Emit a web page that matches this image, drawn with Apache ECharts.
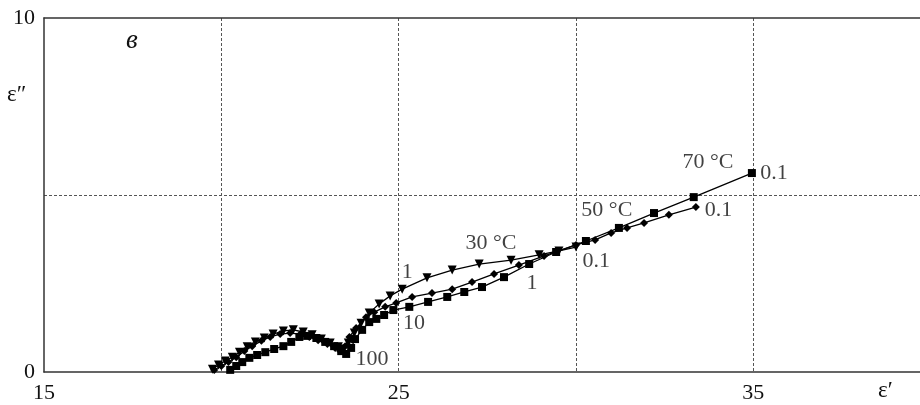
<!DOCTYPE html>
<html>
<head>
<meta charset="utf-8">
<script src="https://cdn.jsdelivr.net/npm/echarts@6/dist/echarts.min.js"></script>
<style>html,body{margin:0;padding:0;background:#fff}#c{width:920px;height:405px}</style>
</head>
<body>
<div id="c"></div>
<script>
// ε' (x) and ε'' (y) data, high frequency -> low frequency
const t30x = [19.75,19.92,20.11,20.31,20.51,20.73,20.96,21.21,21.46,21.75,22.03,22.31,22.56,22.82,23.07,23.30,23.44,23.58,23.75,23.94,24.17,24.45,24.76,25.10,25.80,26.51,27.27,28.17,28.96,29.52,30.00];
const t30y = [0.08,0.20,0.31,0.42,0.56,0.71,0.85,0.96,1.07,1.16,1.19,1.13,1.05,0.93,0.82,0.71,0.65,0.82,1.10,1.38,1.67,1.92,2.15,2.34,2.66,2.88,3.05,3.16,3.31,3.42,3.53];
const t50x = [19.80,20.00,20.20,20.42,20.65,20.87,21.13,21.38,21.66,21.94,22.23,22.48,22.73,22.99,23.21,23.35,23.49,23.61,23.80,24.08,24.31,24.62,24.93,25.38,25.94,26.51,27.07,27.69,28.39,29.10,30.00,30.54,30.99,31.44,31.92,32.62,33.38];
const t50y = [0.06,0.17,0.28,0.42,0.59,0.73,0.88,0.99,1.07,1.10,1.07,0.99,0.90,0.79,0.68,0.59,0.73,0.99,1.24,1.55,1.69,1.84,1.95,2.12,2.23,2.34,2.54,2.77,3.02,3.28,3.59,3.73,3.93,4.07,4.21,4.44,4.66];
const t70x = [20.25,20.42,20.59,20.79,21.01,21.24,21.49,21.75,21.97,22.20,22.42,22.68,22.93,23.18,23.38,23.52,23.66,23.77,23.97,24.17,24.37,24.59,24.85,25.30,25.83,26.37,26.85,27.35,27.97,28.68,29.44,30.28,31.21,32.20,33.32,34.96];
const t70y = [0.06,0.17,0.28,0.40,0.48,0.56,0.65,0.73,0.85,0.99,1.02,0.96,0.85,0.73,0.59,0.51,0.68,0.93,1.19,1.41,1.50,1.61,1.75,1.84,1.98,2.12,2.26,2.40,2.68,3.05,3.39,3.70,4.07,4.49,4.94,5.62];

// tick labels shown
const xTickLabels = [15, 25, 35];
const yTickLabels = [0, 10];

// annotation texts (data coordinates of text centres)
const annText = ['30 °C','50 °C','70 °C','0.1','0.1','0.1','1','1','10','100'];
const annX = [27.60,30.87,33.72,35.58,34.02,30.57,25.24,28.76,25.43,24.25];
const annY = [3.64,4.58,5.93,5.62,4.58,3.14,2.82,2.51,1.38,0.37];

const zip = (a, b) => a.map((v, i) => [v, b[i]]);
const serif = '"Liberation Serif", "DejaVu Serif", serif';
const lineStyle = { color: '#000', width: 1.3 };

const chart = echarts.init(document.getElementById('c'), null, { renderer: 'canvas' });
chart.setOption({
  animation: false,
  backgroundColor: '#fff',
  grid: { left: 44, right: 0, top: 18, bottom: 33, containLabel: false },
  xAxis: [{
    type: 'value', min: 15, max: 39.7, interval: 5,
    axisLine: { show: true, onZero: false, lineStyle: { color: '#333', width: 1.5 } },
    axisTick: { show: false },
    axisLabel: {
      show: true, margin: 10, color: '#111', fontFamily: serif, fontSize: 22,
      showMaxLabel: false,
      formatter: v => xTickLabels.indexOf(v) >= 0 ? String(v) : ''
    },
    splitLine: { show: true, showMinLine: false, showMaxLine: false,
      lineStyle: { color: '#555', width: 1, type: [3, 2] } }
  }, {
    type: 'value', min: 15, max: 39.7, position: 'top',
    axisLine: { show: true, onZero: false, lineStyle: { color: '#333', width: 1.5 } },
    axisTick: { show: false }, axisLabel: { show: false }, splitLine: { show: false }
  }],
  yAxis: {
    type: 'value', min: 0, max: 10, interval: 5,
    axisLine: { show: true, onZero: false, lineStyle: { color: '#333', width: 1.5 } },
    axisTick: { show: false },
    axisLabel: {
      show: true, margin: 9, color: '#111', fontFamily: serif, fontSize: 22,
      formatter: v => yTickLabels.indexOf(v) >= 0 ? String(v) : ''
    },
    splitLine: { show: true, showMinLine: false, showMaxLine: false,
      lineStyle: { color: '#555', width: 1, type: [3, 2] } }
  },
  series: [
    { name: '30 °C', type: 'line', data: zip(t30x, t30y), symbol: 'triangle', symbolRotate: 180, symbolSize: 9,
      itemStyle: { color: '#000' }, lineStyle: lineStyle, z: 3 },
    { name: '50 °C', type: 'line', data: zip(t50x, t50y), symbol: 'diamond', symbolSize: 8,
      itemStyle: { color: '#000' }, lineStyle: lineStyle, z: 3 },
    { name: '70 °C', type: 'line', data: zip(t70x, t70y), symbol: 'rect', symbolSize: 8,
      itemStyle: { color: '#000' }, lineStyle: lineStyle, z: 3 },
    { name: 'ann', type: 'scatter', symbolSize: 0, silent: true, z: 5,
      data: annText.map((t, i) => ({ value: [annX[i], annY[i]], name: t })),
      label: { show: true, position: 'inside', formatter: p => p.name,
        color: '#111', fontFamily: serif, fontSize: 22 } }
  ],
  graphic: [
    { type: 'text', left: 7, top: 83, style: { text: 'ε″', fontFamily: serif, fontSize: 23, fill: '#111' } },
    { type: 'text', left: 878, top: 379, style: { text: 'ε′', fontFamily: serif, fontSize: 23, fill: '#111' } },
    { type: 'text', left: 126, top: 27, style: { text: 'в', fontFamily: serif, fontSize: 27, fontStyle: 'italic', fill: '#111' } }
  ]
});
</script>
</body>
</html>
